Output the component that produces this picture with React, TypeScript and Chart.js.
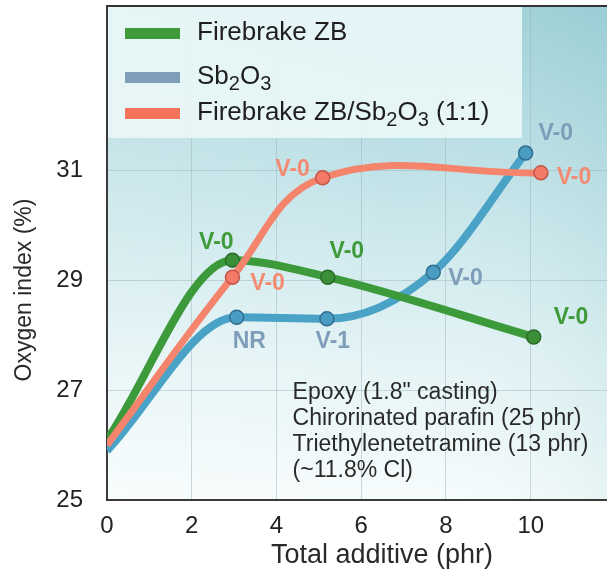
import React, { useEffect, useRef } from 'react';
import { Chart, registerables } from 'chart.js';

Chart.register(...registerables);

// ---------------- data ----------------
const xTickValues = [0, 2, 4, 6, 8, 10];
const yTickValues = [25, 27, 29, 31];

const seriesNames = ['Firebrake ZB', 'Sb₂O₃', 'Firebrake ZB/Sb₂O₃ (1:1)'];

const zbX = [0, 2.96, 5.21, 10.07];
const zbY = [26.1, 29.37, 29.06, 27.97];
const zbRatings = ['', 'V-0', 'V-0', 'V-0'];

const sbX = [0, 3.06, 5.19, 7.7, 9.88];
const sbY = [25.9, 28.33, 28.3, 29.15, 31.32];
const sbRatings = ['', 'NR', 'V-1', 'V-0', 'V-0'];

const mixX = [0, 2.96, 5.09, 10.24];
const mixY = [26.0, 29.06, 30.87, 30.96];
const mixRatings = ['', 'V-0', 'V-0', 'V-0'];

// rating label anchors (data coordinates)
const zbLabelX = [0, 2.58, 5.66, 10.95];
const zbLabelY = [0, 29.68, 29.52, 28.33];
const sbLabelX = [0, 3.36, 5.33, 8.46, 10.59];
const sbLabelY = [0, 27.88, 27.88, 29.04, 31.68];
const mixLabelX = [0, 3.79, 4.38, 11.02];
const mixLabelY = [0, 28.95, 31.01, 30.88];

const noteLines = [
  'Epoxy (1.8" casting)',
  'Chirorinated parafin (25 phr)',
  'Triethylenetetramine (13 phr)',
  '(~11.8% Cl)',
];
const noteX = 4.38;
const noteY = 26.95;

const xTitle = 'Total additive (phr)';
const yTitle = 'Oxygen index (%)';

// ---------------- styles ----------------
const FONT = '"Liberation Sans", Arial, Helvetica, sans-serif';
const GREEN = '#3d9a3b';
const BLUE = '#4aa2c6';
const ORANGE = '#f5846c';
const GREEN_LABEL = '#3f9a3a';
const BLUE_LABEL = '#7f9db8';
const ORANGE_LABEL = '#f38a72';
const SWATCHES = ['#3e9a3a', '#7f9cb8', '#f2735a'];

const SUBS: Record<string, string> = { '₀': '0', '₁': '1', '₂': '2', '₃': '3', '₄': '4' };

function drawRich(ctx: CanvasRenderingContext2D, text: string, x: number, y: number, size: number) {
  let cx = x;
  for (const ch of text) {
    if (SUBS[ch]) {
      ctx.font = `${Math.round(size * 0.78)}px ${FONT}`;
      ctx.fillText(SUBS[ch], cx, y + size * 0.28);
      cx += ctx.measureText(SUBS[ch]).width;
    } else {
      ctx.font = `${size}px ${FONT}`;
      ctx.fillText(ch, cx, y);
      cx += ctx.measureText(ch).width;
    }
  }
}

const decorPlugin = {
  id: 'decor',
  beforeDraw(chart: any) {
    const { ctx, chartArea: a } = chart;
    ctx.save();
    ctx.fillStyle = '#ffffff';
    ctx.fillRect(0, 0, chart.width, chart.height);
    const g = ctx.createLinearGradient(0, a.top, 0, a.bottom);
    g.addColorStop(0, '#a0d2d8');
    g.addColorStop(0.35, '#c2e3e8');
    g.addColorStop(0.7, '#e3f3f5');
    g.addColorStop(1, '#f7fcfc');
    ctx.fillStyle = g;
    ctx.fillRect(a.left, a.top, a.right - a.left, a.bottom - a.top);
    const h = ctx.createLinearGradient(a.left, 0, a.right, 0);
    h.addColorStop(0, 'rgba(255,255,255,0.18)');
    h.addColorStop(0.6, 'rgba(255,255,255,0)');
    h.addColorStop(1, 'rgba(90,170,180,0.10)');
    ctx.fillStyle = h;
    ctx.fillRect(a.left, a.top, a.right - a.left, a.bottom - a.top);
    ctx.restore();
  },
  beforeDatasetsDraw(chart: any) {
    const { ctx, chartArea: a } = chart;
    ctx.save();
    // legend box
    ctx.fillStyle = 'rgba(234,246,248,0.93)';
    ctx.fillRect(a.left + 1, a.top, 414, 132);
    const rows = [33, 77, 113];
    for (let i = 0; i < 3; i++) {
      ctx.fillStyle = SWATCHES[i];
      ctx.fillRect(125, rows[i] - 5, 55, 11);
      ctx.fillStyle = '#1e1e1e';
      ctx.textBaseline = 'middle';
      ctx.textAlign = 'left';
      drawRich(ctx, seriesNames[i], 197, rows[i], 26);
    }
    ctx.restore();
  },
  afterDatasetsDraw(chart: any) {
    const { ctx, scales } = chart;
    const xs = scales.x;
    const ys = scales.y;
    ctx.save();
    ctx.textAlign = 'center';
    ctx.textBaseline = 'middle';
    ctx.font = `bold 23px ${FONT}`;
    const sets: [string[], number[], number[], string][] = [
      [zbRatings, zbLabelX, zbLabelY, GREEN_LABEL],
      [sbRatings, sbLabelX, sbLabelY, BLUE_LABEL],
      [mixRatings, mixLabelX, mixLabelY, ORANGE_LABEL],
    ];
    for (const [txt, lx, ly, col] of sets) {
      ctx.fillStyle = col;
      txt.forEach((t, i) => {
        if (!t) return;
        ctx.fillText(t, xs.getPixelForValue(lx[i]), ys.getPixelForValue(ly[i]));
      });
    }
    // note block
    ctx.fillStyle = '#2a2a2a';
    ctx.textAlign = 'left';
    ctx.font = `23px ${FONT}`;
    const nx = xs.getPixelForValue(noteX);
    const ny = ys.getPixelForValue(noteY);
    noteLines.forEach((l, i) => ctx.fillText(l, nx, ny + i * 26));
    ctx.restore();
  },
  afterDraw(chart: any) {
    const { ctx, chartArea: a } = chart;
    ctx.save();
    ctx.strokeStyle = '#333';
    ctx.lineWidth = 2;
    ctx.beginPath();
    ctx.moveTo(a.left - 1, a.top);
    ctx.lineTo(a.right, a.top);
    ctx.stroke();
    // axis titles
    ctx.fillStyle = '#2a2a2a';
    ctx.textAlign = 'center';
    ctx.textBaseline = 'middle';
    ctx.font = `27px ${FONT}`;
    ctx.fillText(xTitle, 382, 556);
    ctx.translate(25, 290);
    ctx.rotate(-Math.PI / 2);
    ctx.font = `23px ${FONT}`;
    ctx.fillText(yTitle, 0, 0);
    ctx.restore();
  },
};

function pts(xs: number[], ys: number[]) {
  return xs.map((x, i) => ({ x, y: ys[i] }));
}
function radii(n: number) {
  return Array.from({ length: n }, (_, i) => (i === 0 ? 0 : 7));
}

export default function App() {
  const ref = useRef<HTMLCanvasElement>(null);
  useEffect(() => {
    document.body.style.margin = '0';
    document.body.style.overflow = 'hidden';
    const chart = new Chart(ref.current!, {
      type: 'line',
      data: {
        datasets: [
          {
            label: seriesNames[0],
            data: pts(zbX, zbY),
            borderColor: GREEN,
            borderWidth: 8,
            cubicInterpolationMode: 'monotone',
            pointRadius: radii(zbX.length),
            pointBackgroundColor: '#3a8f38',
            pointBorderColor: '#2b6b2a',
            pointBorderWidth: 1.5,
            order: 1,
          },
          {
            label: seriesNames[1],
            data: pts(sbX, sbY),
            borderColor: BLUE,
            borderWidth: 8,
            cubicInterpolationMode: 'monotone',
            pointRadius: radii(sbX.length),
            pointBackgroundColor: '#4a9cc2',
            pointBorderColor: '#2f6e90',
            pointBorderWidth: 1.5,
            order: 2,
          },
          {
            label: seriesNames[2],
            data: pts(mixX, mixY),
            borderColor: ORANGE,
            borderWidth: 7,
            tension: 0.4,
            pointRadius: radii(mixX.length),
            pointBackgroundColor: '#f27a66',
            pointBorderColor: '#c4564a',
            pointBorderWidth: 1.5,
            order: 0,
          },
        ],
      },
      options: {
        animation: false,
        responsive: false,
        layout: { autoPadding: false, padding: { top: 6, right: 0, left: 0, bottom: 0 } },
        plugins: { legend: { display: false }, tooltip: { enabled: false } },
        scales: {
          x: {
            type: 'linear',
            min: 0,
            max: 11.8,
            afterBuildTicks: (s: any) => {
              s.ticks = xTickValues.map((v) => ({ value: v }));
            },
            afterFit: (s: any) => {
              s.height = 81;
              s.paddingLeft = 0;
              s.paddingRight = 0;
            },
            grid: { color: 'rgba(150,175,185,0.45)', lineWidth: 1, drawTicks: false },
            border: { color: '#3a3a3a', width: 2 },
            ticks: { font: { family: FONT, size: 24 }, color: '#222', padding: 12, maxRotation: 0 },
          },
          y: {
            type: 'linear',
            min: 25,
            max: 34,
            afterBuildTicks: (s: any) => {
              s.ticks = yTickValues.map((v) => ({ value: v }));
            },
            afterFit: (s: any) => {
              s.width = 107;
              s.paddingTop = 0;
              s.paddingBottom = 0;
            },
            grid: { color: 'rgba(150,175,185,0.45)', lineWidth: 1, drawTicks: false },
            border: { color: '#3a3a3a', width: 2 },
            ticks: { font: { family: FONT, size: 24 }, color: '#222', padding: 24 },
          },
        },
      },
      plugins: [decorPlugin],
    } as any);
    return () => chart.destroy();
  }, []);
  return <canvas ref={ref} width={607} height={581} style={{ display: 'block' }} />;
}
